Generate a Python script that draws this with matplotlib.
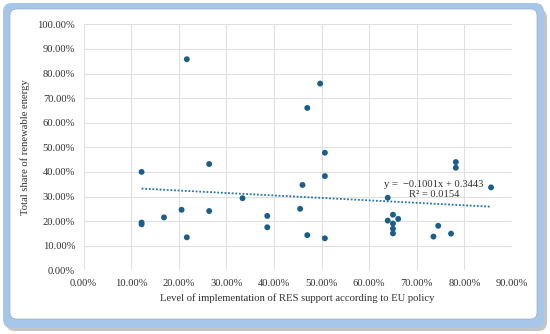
import matplotlib.pyplot as plt
import numpy as np
from matplotlib.patches import FancyBboxPatch
from matplotlib.ticker import PercentFormatter

# level of RES support implementation (share) vs total share of renewable energy
res_support = [
    0.217, 0.264, 0.497, 0.470, 0.507, 0.782, 0.782,
    0.122, 0.122, 0.122, 0.169, 0.206, 0.217, 0.264, 0.334, 0.386, 0.386,
    0.460, 0.507, 0.455, 0.470, 0.507,
    0.639, 0.639, 0.650, 0.661, 0.650, 0.650, 0.650,
    0.745, 0.735, 0.772, 0.856,
]
renewable_share = [
    0.858, 0.432, 0.759, 0.660, 0.478, 0.440, 0.417,
    0.400, 0.194, 0.187, 0.215, 0.246, 0.134, 0.241, 0.293, 0.221, 0.175,
    0.347, 0.383, 0.250, 0.143, 0.130,
    0.295, 0.202, 0.226, 0.209, 0.190, 0.169, 0.150,
    0.181, 0.137, 0.149, 0.337,
]
trend_slope = -0.1001
trend_intercept = 0.3443
trend_r2 = 0.0154

x_ticks = np.arange(0, 0.91, 0.1)
y_ticks = np.arange(0, 1.01, 0.1)

plt.rcParams["font.family"] = ["Liberation Serif", "DejaVu Serif"]
dot_color = "#1b5e8a"
text_color = "#303030"

fig = plt.figure(figsize=(5.5, 3.34), dpi=100)

# rounded frame with light blue border and soft shadow
W, H = 550.0, 334.0
shadow = FancyBboxPatch((6 / W, 3 / H), 541 / W, 322 / H,
                        boxstyle="round,pad=0,rounding_size=0.016",
                        transform=fig.transFigure, facecolor="#c4c4c4",
                        edgecolor="none", zorder=-3, mutation_aspect=W / H)
outer = FancyBboxPatch((3 / W, 6 / H), 541 / W, 325 / H,
                       boxstyle="round,pad=0,rounding_size=0.016",
                       transform=fig.transFigure, facecolor="#a7c7ea",
                       edgecolor="none", zorder=-2, mutation_aspect=W / H)
inner = FancyBboxPatch((10 / W, 15 / H), 527 / W, 310 / H,
                       boxstyle="round,pad=0,rounding_size=0.012",
                       transform=fig.transFigure, facecolor="white",
                       edgecolor="#8a9fb8", linewidth=0.4, zorder=-1,
                       mutation_aspect=W / H)
for p in (shadow, outer, inner):
    fig.patches.append(p)

ax = fig.add_axes([83.5 / W, 1 - 270.3 / H, (512 - 83.5) / W, (270.3 - 24.3) / H])
ax.set_facecolor("none")

ax.scatter(res_support, renewable_share, s=18, color=dot_color, zorder=3,
           edgecolors="none")

# linear trend line over the data range
xs = np.array([min(res_support), max(res_support)])
ax.plot(xs, trend_slope * xs + trend_intercept, linestyle=(0, (1, 1)),
        color="#2373a6", linewidth=1.3, zorder=2)

ax.text(0.736, 0.329,
        f"y =  \u2212{abs(trend_slope):.4f}x + {trend_intercept:.4f}\nR\u00b2 = {trend_r2:.4f}",
        ha="center", va="center", fontsize=7.6, color=text_color, linespacing=1.15)

ax.set_xlim(0, 0.9)
ax.set_ylim(0, 1.0)
ax.set_xticks(x_ticks)
ax.set_yticks(y_ticks)
ax.xaxis.set_major_formatter(PercentFormatter(1.0, decimals=2))
ax.yaxis.set_major_formatter(PercentFormatter(1.0, decimals=2))
ax.tick_params(length=0, labelsize=7.6, colors=text_color, pad=6)
ax.grid(True, color="#e0e0e0", linewidth=0.8)
ax.set_axisbelow(True)
for s in ax.spines.values():
    s.set_visible(False)

ax.set_xlabel("Level of implementation of RES support according to EU policy",
              fontsize=7.7, color=text_color, labelpad=4)
ax.set_ylabel("Total share of renewable energy", fontsize=7.7, color=text_color,
              labelpad=5)

fig.savefig("out.png", dpi=100)
